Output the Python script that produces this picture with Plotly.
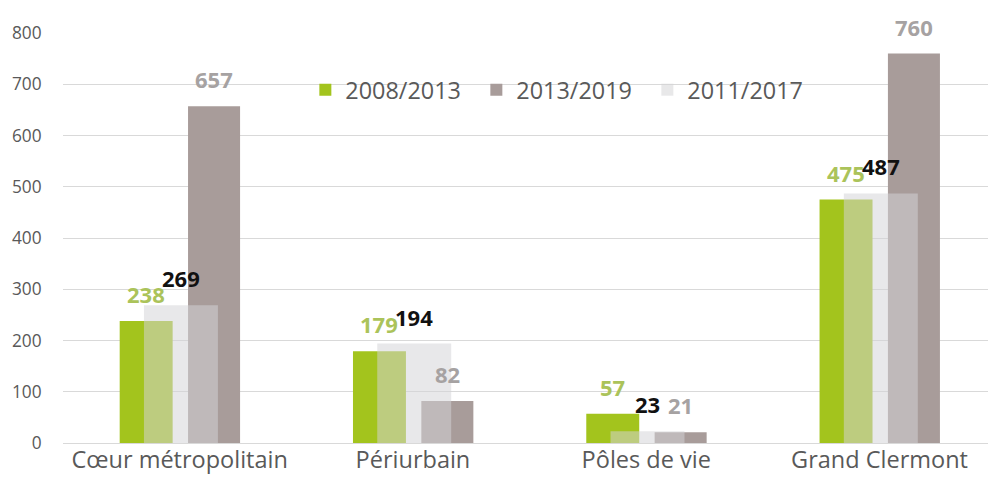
import plotly.graph_objects as go

categories = ["Cœur métropolitain", "Périurbain", "Pôles de vie", "Grand Clermont"]
series_names = ["2008/2013", "2013/2019", "2011/2017"]
v_2008_2013 = [238, 179, 57, 475]
v_2013_2019 = [657, 82, 21, 760]
v_2011_2017 = [269, 194, 23, 487]
y_ticks = [0, 100, 200, 300, 400, 500, 600, 700, 800]

FONT = "Open Sans"
GREEN = "#a3c41d"
TAUPE = "#a89c9a"
OVER = "rgb(212,212,215)"
TXT = "#595959"

# bar geometry (category units)
G_OFF, G_W = -0.257, 0.227
T_OFF, T_W = 0.036, 0.223
O_OFF, O_W = -0.153, 0.317

fig = go.Figure()
fig.add_trace(go.Bar(name=series_names[0], x=categories, y=v_2008_2013,
                     offset=G_OFF, width=G_W, marker=dict(color=GREEN, line=dict(width=0))))
fig.add_trace(go.Bar(name=series_names[1], x=categories, y=v_2013_2019,
                     offset=T_OFF, width=T_W, marker=dict(color=TAUPE, line=dict(width=0))))
fig.add_trace(go.Bar(name=series_names[2], x=categories, y=v_2011_2017,
                     offset=O_OFF, width=O_W, opacity=0.53,
                     marker=dict(color=OVER, line=dict(width=0))))

label_specs = [
    (v_2008_2013, G_OFF + G_W / 2, "#abc35a"),
    (v_2013_2019, T_OFF + T_W / 2, "#a6a2a2"),
    (v_2011_2017, O_OFF + O_W / 2, "#111111"),
]
annotations = []
for vals, dx, col in label_specs:
    for i, v in enumerate(vals):
        annotations.append(dict(
            x=i + dx, y=v, xref="x", yref="y", text=str(v), showarrow=False,
            yanchor="bottom", xanchor="center", yshift=10,
            font=dict(family=FONT, size=22, color=col, weight="bold"),
        ))

fig.update_layout(
    width=988, height=488,
    margin=dict(l=63, r=0, t=33, b=45, autoexpand=False),
    paper_bgcolor="white", plot_bgcolor="white",
    barmode="overlay",
    showlegend=True,
    legend=dict(orientation="h", x=0.262, xanchor="left", y=0.861, yanchor="middle",
                font=dict(family=FONT, size=23.4, color=TXT),
                bgcolor="rgba(0,0,0,0)", entrywidth=126, entrywidthmode="pixels",
                itemclick=False),
    annotations=annotations,
    font=dict(family=FONT, color=TXT),
)
fig.update_xaxes(range=[-0.5, 3.465], showgrid=False, showline=False, zeroline=False,
                 automargin=False,
                 tickfont=dict(family=FONT, size=23.5, color=TXT), ticks="")
fig.update_yaxes(range=[0, 800], tickvals=y_ticks, showgrid=True, gridcolor="#d9d9d9",
                 gridwidth=1, zeroline=True, zerolinecolor="#d9d9d9", zerolinewidth=1,
                 showline=False, ticks="outside", ticklen=17, tickcolor="rgba(0,0,0,0)",
                 automargin=False,
                 tickfont=dict(family=FONT, size=17.3, color=TXT))

fig.write_html(
    "out.html",
    config={"displayModeBar": False, "staticPlot": True},
    post_script=("document.body.style.margin='0';"
                 "document.body.style.overflow='hidden';"
                 "document.documentElement.style.overflow='hidden';"),
)
